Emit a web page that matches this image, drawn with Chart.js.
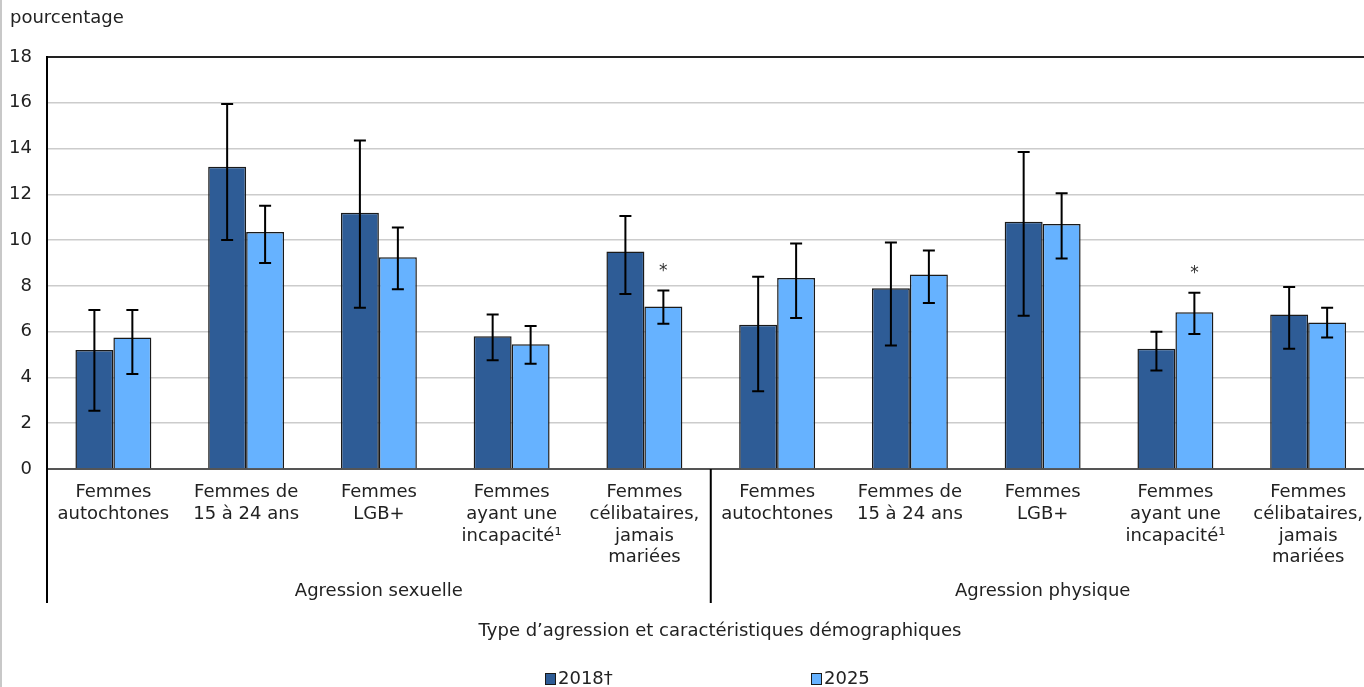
<!DOCTYPE html>
<html lang="fr">
<head>
<meta charset="utf-8">
<script src="https://cdn.jsdelivr.net/npm/chart.js@4"></script>
<style>
  html, body { margin: 0; padding: 0; overflow: hidden; background: #fff; }
  #wrap { position: absolute; left: 0; top: 0; width: 1376px; height: 687px; }
</style>
</head>
<body>
<div id="wrap"><canvas id="chart" width="1376" height="687"></canvas></div>
<script>
const categories = [
    ["Femmes", "autochtones"],
    ["Femmes de", "15 à 24 ans"],
    ["Femmes", "LGB+"],
    ["Femmes", "ayant une", "incapacité¹"],
    ["Femmes", "célibataires,", "jamais", "mariées"],
    ["Femmes", "autochtones"],
    ["Femmes de", "15 à 24 ans"],
    ["Femmes", "LGB+"],
    ["Femmes", "ayant une", "incapacité¹"],
    ["Femmes", "célibataires,", "jamais", "mariées"]
];
const groups = ["Agression sexuelle", "Agression physique"];
const groupSize = 5;

const values2018 = [5.2, 13.2, 11.2, 5.8, 9.5, 6.3, 7.9, 10.8, 5.25, 6.75];
const low2018    = [2.55, 10.0, 7.05, 4.75, 7.65, 3.4, 5.4, 6.7, 4.3, 5.25];
const high2018   = [6.95, 15.95, 14.35, 6.75, 11.05, 8.4, 9.9, 13.85, 6.0, 7.95];

const values2025 = [5.75, 10.35, 9.25, 5.45, 7.1, 8.35, 8.5, 10.7, 6.85, 6.4];
const low2025    = [4.15, 9.0, 7.85, 4.6, 6.35, 6.6, 7.25, 9.2, 5.9, 5.75];
const high2025   = [6.95, 11.5, 10.55, 6.25, 7.8, 9.85, 9.55, 12.05, 7.7, 7.05];
const signif2025 = [false, false, false, false, true, false, false, false, true, false];

const seriesNames = ["2018†", "2025"];
const yTicks = [0, 2, 4, 6, 8, 10, 12, 14, 16, 18];

const FONT = "'DejaVu Sans', Verdana, sans-serif";
const darkBlue = "#2e5c96";
const lightBlue = "#66b2ff";

// draws error bars, asterisks, separators, group labels, titles and legend
const extras = {
    id: "extras",
    afterDatasetsDraw(chart) {
        const ctx = chart.ctx;
        const ys = chart.scales.y;
        const lows = [low2018, low2025];
        const highs = [high2018, high2025];

        ctx.save();
        ctx.strokeStyle = "#000";
        ctx.lineWidth = 2;
        for (let d = 0; d < 2; d += 1) {
            const meta = chart.getDatasetMeta(d);
            meta.data.forEach((bar, i) => {
                const yLo = ys.getPixelForValue(lows[d][i]);
                const yHi = ys.getPixelForValue(highs[d][i]);
                ctx.beginPath();
                ctx.moveTo(bar.x, yLo); ctx.lineTo(bar.x, yHi);
                ctx.moveTo(bar.x - 6, yLo); ctx.lineTo(bar.x + 6, yLo);
                ctx.moveTo(bar.x - 6, yHi); ctx.lineTo(bar.x + 6, yHi);
                ctx.stroke();
                if (d === 1 && signif2025[i]) {
                    ctx.fillStyle = "#333";
                    ctx.font = "17px " + FONT;
                    ctx.textAlign = "center";
                    ctx.textBaseline = "middle";
                    ctx.fillText("*", bar.x, yHi - 19);
                }
            });
        }
        ctx.restore();
    },
    afterDraw(chart) {
        const ctx = chart.ctx;
        const area = chart.chartArea;
        const xs = chart.scales.x;
        ctx.save();

        // page frame on the left
        ctx.fillStyle = "#c8c8c8";
        ctx.fillRect(0, 0, 2, chart.height);

        // axis line and group separators going down into the labels
        ctx.strokeStyle = "#000";
        ctx.lineWidth = 2;
        const sepBottom = 603;
        ctx.beginPath();
        ctx.moveTo(area.left, area.top - 1);
        ctx.lineTo(area.left, sepBottom);
        for (let g = 1; g < groups.length; g += 1) {
            const k = g * groupSize;
            const sx = (xs.getPixelForValue(k - 1) + xs.getPixelForValue(k)) / 2;
            ctx.moveTo(sx, area.bottom);
            ctx.lineTo(sx, sepBottom);
        }
        ctx.stroke();

        ctx.fillStyle = "#222";
        ctx.font = "18px " + FONT;
        ctx.textAlign = "center";
        ctx.textBaseline = "middle";
        groups.forEach((name, g) => {
            const a = g * groupSize;
            const b = a + groupSize - 1;
            const left = g === 0 ? area.left : (xs.getPixelForValue(a - 1) + xs.getPixelForValue(a)) / 2;
            const right = g === groups.length - 1 ? area.right : (xs.getPixelForValue(b) + xs.getPixelForValue(b + 1)) / 2;
            ctx.fillText(name, (left + right) / 2, 591);
        });

        ctx.fillText("Type d’agression et caractéristiques démographiques", 720, 631);

        ctx.textAlign = "left";
        ctx.fillText("pourcentage", 10, 18);

        // legend
        const legendX = [545, 811];
        const colors = [darkBlue, lightBlue];
        seriesNames.forEach((name, i) => {
            ctx.fillStyle = colors[i];
            ctx.fillRect(legendX[i], 673, 10, 11);
            ctx.strokeStyle = "#1a1a1a";
            ctx.lineWidth = 1;
            ctx.strokeRect(legendX[i] + 0.5, 673.5, 10, 11);
            ctx.fillStyle = "#222";
            ctx.fillText(name, legendX[i] + 13, 679);
        });
        ctx.restore();
    }
};

new Chart(document.getElementById("chart"), {
    type: "bar",
    data: {
        labels: categories,
        datasets: [
            {
                label: seriesNames[0],
                data: values2018,
                backgroundColor: darkBlue,
                borderColor: "#1a1a1a",
                borderWidth: 1.5
            },
            {
                label: seriesNames[1],
                data: values2025,
                backgroundColor: lightBlue,
                borderColor: "#1a1a1a",
                borderWidth: 1.5
            }
        ]
    },
    options: {
        responsive: false,
        animation: false,
        layout: { padding: { top: 57, left: 0, right: 0, bottom: 0 } },
        datasets: { bar: { categoryPercentage: 0.572, barPercentage: 1.0 } },
        plugins: {
            legend: { display: false },
            tooltip: { enabled: false }
        },
        scales: {
            x: {
                grid: { display: false, drawTicks: false },
                border: { color: "#555", width: 2 },
                ticks: {
                    color: "#222",
                    padding: 13,
                    maxRotation: 0,
                    autoSkip: false,
                    font: { family: FONT, size: 18, lineHeight: 1.2 }
                },
                afterFit(scale) { scale.height = 218; }
            },
            y: {
                min: 0,
                max: 18,
                afterBuildTicks(scale) { scale.ticks = yTicks.map(v => ({ value: v })); },
                grid: {
                    drawTicks: false,
                    color: ctx => (ctx.tick && ctx.tick.value === 18 ? "#222" : "#cccccc"),
                    lineWidth: ctx => (ctx.tick && ctx.tick.value === 18 ? 2 : 1.5)
                },
                border: { color: "#000", width: 2 },
                ticks: {
                    color: "#222",
                    padding: 15,
                    font: { family: FONT, size: 18 }
                },
                afterFit(scale) { scale.width = 47; }
            }
        }
    },
    plugins: [extras]
});
</script>
</body>
</html>
